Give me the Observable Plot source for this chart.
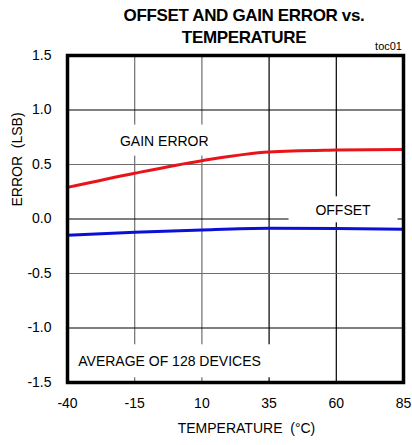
<!DOCTYPE html>
<html>
<head>
<meta charset="utf-8">
<script src="https://cdn.jsdelivr.net/npm/d3@7"></script>
<script src="https://cdn.jsdelivr.net/npm/@observablehq/plot@0.6"></script>
<style>
  body { margin: 0; background: #fff; font-family: "Liberation Sans", Arial, sans-serif; color: #000; }
  #wrap { width: 412px; height: 445px; overflow: hidden; }
  #head { position: relative; z-index: 1; width: 412px; height: 40px; }
  .tl { position: absolute; left: 38px; width: 412px; text-align: center; font-weight: bold; font-size: 17px; line-height: 17px; letter-spacing: -0.35px; white-space: nowrap; }
  #toc { position: absolute; right: 10px; top: 40.5px; font-size: 11px; line-height: 11px; }
  svg { display: block; }
</style>
</head>
<body>
<div id="wrap">
  <div id="head">
    <div class="tl" style="top:7px">OFFSET AND GAIN ERROR vs.</div>
    <div class="tl" style="top:29px">TEMPERATURE</div>
    <div id="toc">toc01</div>
  </div>
  <div id="chart"></div>
</div>
<script>
// ---- data ----
const temps      = [-40, -15, 10, 35, 60, 85];
const gainError  = [0.29, 0.42, 0.535, 0.615, 0.632, 0.638];
const offsetErr  = [-0.148, -0.122, -0.100, -0.086, -0.087, -0.093];
const yTicks     = [-1.5, -1.0, -0.5, 0.0, 0.5, 1.0, 1.5];
const gridTemps  = [-15, 10, 35, 60];
const gridErrors = [-1.0, -0.5, 0.0, 0.5, 1.0];
const labelTexts = ["GAIN ERROR", "OFFSET", "AVERAGE OF 128 DEVICES"];
const labelTemps = [-4, 62.5, -36];
const labelErrs  = [0.715, 0.075, -1.31];

const gain = temps.map((t, i) => ({t, v: gainError[i]}));
const off  = temps.map((t, i) => ({t, v: offsetErr[i]}));
const labels = labelTexts.map((text, i) => ({text, t: labelTemps[i], v: labelErrs[i]}));

const grayX = new Set([-15, 10]);
const grayY = new Set([-0.5, 0.5]);

function box(d, l, r, top, bottom) {
  return Plot.rect([d], {x1: "t", x2: "t", y1: "v", y2: "v", fill: "white",
    insetLeft: -l, insetRight: -r, insetTop: -top, insetBottom: -bottom});
}

const chart = Plot.plot({
  width: 412,
  height: 405,
  marginTop: 15,
  marginBottom: 63,
  marginLeft: 67,
  marginRight: 9,
  style: {fontFamily: '"Liberation Sans", Arial, sans-serif', fontSize: "14px", color: "#000", background: "transparent"},
  x: {domain: [-40, 85]},
  y: {domain: [-1.5, 1.5]},
  marks: [
    Plot.ruleX(gridTemps, {x: d => d, stroke: d => grayX.has(d) ? "#6e6e6e" : "#000", strokeWidth: 1.2}),
    Plot.ruleY(gridErrors, {y: d => d, stroke: d => grayY.has(d) ? "#6e6e6e" : "#000", strokeWidth: 1.2}),
    box(labels[0], 52, 52, 16, 15),
    box(labels[1], 54, 55, 14, 12),
    box(labels[2], 8, 194, 17, 16),
    Plot.line(gain, {x: "t", y: "v", stroke: "#e8141a", strokeWidth: 3, curve: "monotone-x"}),
    Plot.line(off, {x: "t", y: "v", stroke: "#0a10d8", strokeWidth: 3, curve: "monotone-x"}),
    Plot.text([labels[0], labels[1]], {x: "t", y: "v", text: "text", fontSize: 14, textAnchor: "middle"}),
    Plot.text([labels[2]], {x: "t", y: "v", text: "text", fontSize: 14, textAnchor: "start"}),
    Plot.axisX({ticks: temps, tickFormat: d => String(d), tickSize: 0, tickPadding: 16, fontSize: 14, label: null}),
    Plot.axisY({ticks: yTicks, tickFormat: d => d.toFixed(1), tickSize: 0, tickPadding: 16, fontSize: 14, label: null}),
    Plot.text(["TEMPERATURE  (°C)"], {frameAnchor: "bottom", text: d => d, dx: 11, dy: 50, fontSize: 14}),
    Plot.text(["ERROR  (LSB)"], {frameAnchor: "left", text: d => d, dx: -50, dy: -12.5, rotate: -90, fontSize: 14}),
    Plot.frame({stroke: "#000", strokeWidth: 3.5})
  ]
});
document.getElementById("chart").appendChild(chart);
</script>
</body>
</html>
